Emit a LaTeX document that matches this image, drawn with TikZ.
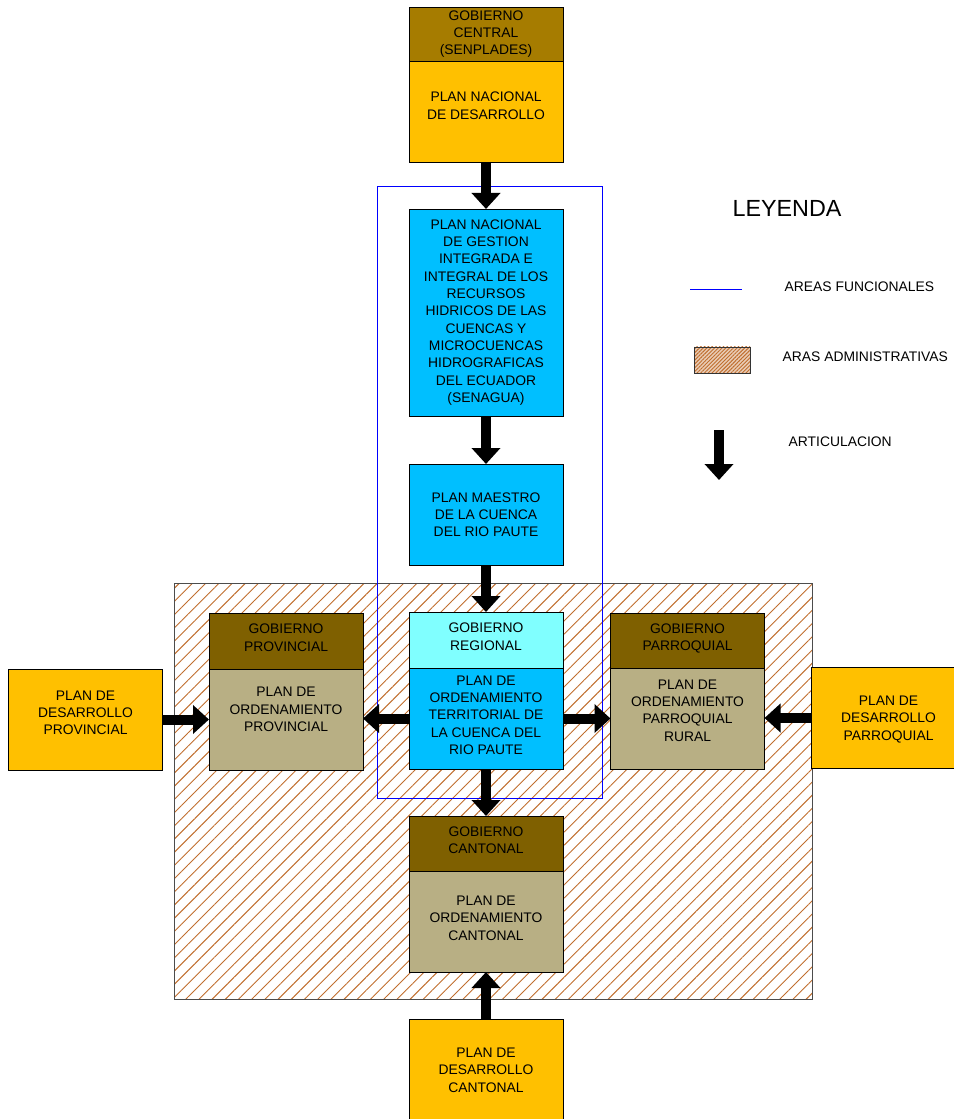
\documentclass[tikz,border=0pt]{standalone}
\usepackage{fontspec}
\setmainfont{Liberation Sans}
\usepackage{xcolor}
\usetikzlibrary{arrows.meta, positioning, patterns.meta}
\definecolor{gobCentral}{HTML}{A67C00}
\definecolor{gobBrown}{HTML}{7F6000}
\definecolor{planOrange}{HTML}{FFC000}
\definecolor{planTan}{HTML}{B8AF84}
\definecolor{planBlue}{HTML}{00BFFF}
\definecolor{regCyan}{HTML}{80FFFF}
\definecolor{hatchBrown}{HTML}{C06E2E}
\newdimen\px \px=0.75pt
\tikzstyle{box} = [rectangle, draw=black, line width=0.6pt, outer sep=0pt,
  minimum width=154\px, inner sep=1pt, align=center,
  font=\fontsize{10.4}{13}\selectfont]
\tikzstyle{headbox} = [box, fill=gobBrown, minimum height=55\px, text depth=5pt]
\tikzstyle{orangebox} = [box, fill=planOrange, minimum height=101\px]
\tikzstyle{tanbox} = [box, fill=planTan, minimum height=101\px]
\tikzstyle{bluebox} = [box, fill=planBlue]
\tikzstyle{artic} = [-{Triangle[length=12pt,width=21pt]}, line width=7.5pt, color=black]
\tikzstyle{funcline} = [color=blue, line width=0.7pt]
\tikzstyle{adminarea} = [draw=black!70, line width=0.6pt,
  pattern={Lines[angle=45,distance=7pt,line width=0.7pt]}, pattern color=hatchBrown]
\tikzstyle{legtext} = [anchor=west, font=\fontsize{10.4}{13}\selectfont]

\begin{document}
\begin{tikzpicture}[x=0.75pt, y=-0.75pt]
  \useasboundingbox (0,0) rectangle (953,1119);

  % Areas
  \draw[adminarea] (174,583) rectangle (812,999);
  \draw[funcline] (377,186) rectangle (602,798);

  % Central column
  \node[headbox, fill=gobCentral, minimum height=54\px, text depth=2pt] (central) at (486,34) {GOBIERNO\\CENTRAL\\(SENPLADES)};
  \node[orangebox, below=0pt of central, text depth=9pt] (pnd) {PLAN NACIONAL\\DE DESARROLLO};
  \node[bluebox, minimum height=207\px] (pngi) at (486,312.5) {PLAN NACIONAL\\DE GESTION\\INTEGRADA E\\INTEGRAL DE LOS\\RECURSOS\\HIDRICOS DE LAS\\CUENCAS Y\\MICROCUENCAS\\HIDROGRAFICAS\\DEL ECUADOR\\(SENAGUA)};
  \node[bluebox, minimum height=101\px, text depth=-5pt] (maestro) at (486,514.5) {PLAN MAESTRO\\DE LA CUENCA\\DEL RIO PAUTE};
  \node[headbox, fill=regCyan, minimum height=56\px] (regionalhead) at (486,640) {GOBIERNO\\REGIONAL};
  \node[bluebox, minimum height=101\px, below=0pt of regionalhead, text depth=5pt] (regional) {PLAN DE\\ORDENAMIENTO\\TERRITORIAL DE\\LA CUENCA DEL\\RIO PAUTE};

  % Provincial / Parroquial / Cantonal
  \node[headbox, minimum height=56\px] (provhead) at (286,641) {GOBIERNO\\PROVINCIAL};
  \node[tanbox, below=0pt of provhead, text depth=15pt] (provincial) {PLAN DE\\ORDENAMIENTO\\PROVINCIAL};
  \node[headbox] (parrhead) at (687.5,640.5) {GOBIERNO\\PARROQUIAL};
  \node[tanbox, below=0pt of parrhead, text depth=12pt] (parroquial) {PLAN DE\\ORDENAMIENTO\\PARROQUIAL\\RURAL};
  \node[headbox] (canthead) at (486,843.5) {GOBIERNO\\CANTONAL};
  \node[tanbox, below=0pt of canthead, text depth=5pt] (cantonal) {PLAN DE\\ORDENAMIENTO\\CANTONAL};

  % Planes de desarrollo
  \node[orangebox, text depth=10pt] (desprov) at (85.5,719.5) {PLAN DE\\DESARROLLO\\PROVINCIAL};
  \node[orangebox, text depth=-7pt] (desparr) at (888.5,718) {PLAN DE\\DESARROLLO\\PARROQUIAL};
  \node[orangebox] (descant) at (486,1070) {PLAN DE\\DESARROLLO\\CANTONAL};

  % Articulacion
  \draw[artic] (pnd.south) -- (pngi.north);
  \draw[artic] (pngi.south) -- (maestro.north);
  \draw[artic] (maestro.south) -- (regionalhead.north);
  \draw[artic] (regional.south) -- (canthead.north);
  \draw[artic] (descant.north) -- (cantonal.south);
  \draw[artic] (regional.west) -- (regional.west -| provincial.east);
  \draw[artic] (regional.east) -- (regional.east -| parroquial.west);
  \draw[artic] (desprov.east) -- (desprov.east -| provincial.west);
  \draw[artic] (desparr.west) -- (desparr.west -| parroquial.east);

  % Leyenda
  \node[font=\fontsize{17.5}{21}\selectfont] (leyenda) at (787,208) {LEYENDA};
  \coordinate (func1) at (690,289);
  \coordinate (func2) at (742,289);
  \draw[funcline] (func1) -- (func2);
  \node[legtext] (funclabel) at (780,287) {AREAS FUNCIONALES};
  \node[draw=black!80, line width=0.6pt, minimum width=56\px, minimum height=26\px,
    preaction={fill=hatchBrown!35},
    pattern={Lines[angle=45,distance=2pt,line width=0.7pt]}, pattern color=hatchBrown] (adminkey) at (722,360) {};
  \node[legtext] (adminlabel) at (778,357) {ARAS ADMINISTRATIVAS};
  \coordinate (art1) at (719,430);
  \coordinate (art2) at (719,480);
  \draw[artic] (art1) -- (art2);
  \node[legtext] (artlabel) at (784,442) {ARTICULACION};
\end{tikzpicture}
\end{document}
